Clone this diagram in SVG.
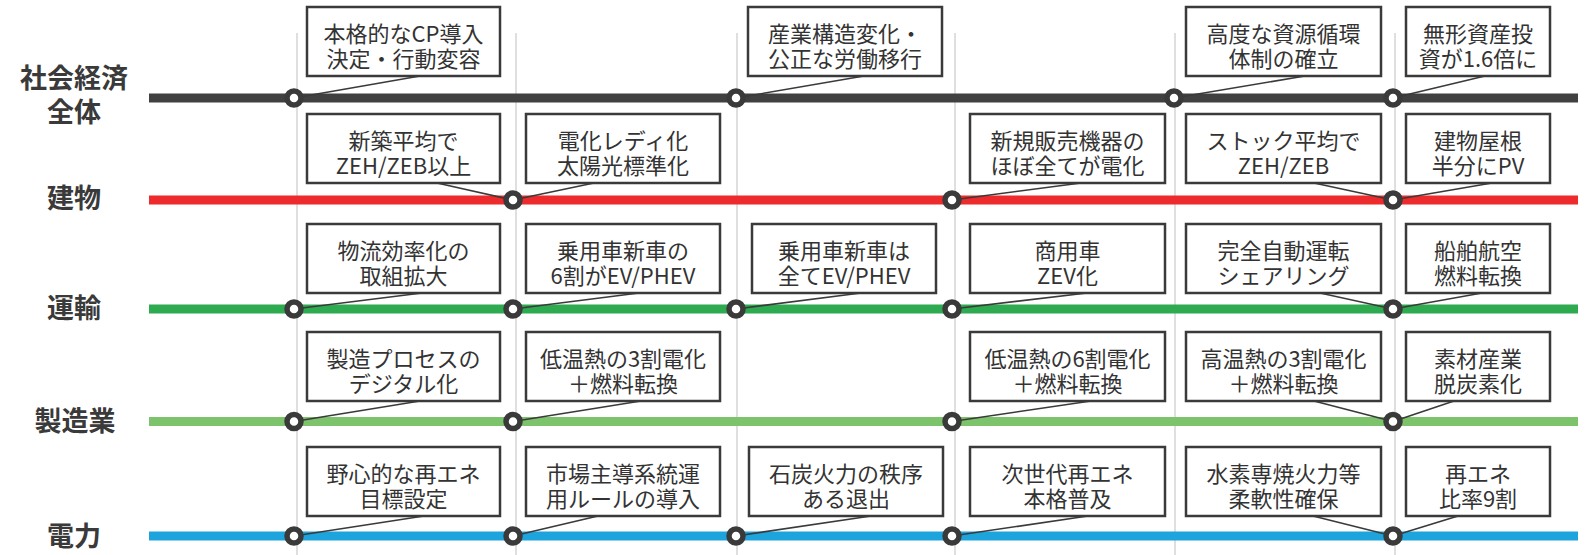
<svg xmlns="http://www.w3.org/2000/svg" width="1593" height="555" viewBox="0 0 1593 555">
<style>
.grid{stroke:#d4d4d4;stroke-width:1.5}
.track{stroke-width:9;fill:none}
.box{fill:#fff;stroke:#3a3a3a;stroke-width:2.5}
.t{font-family:"Noto Sans CJK JP","Noto Sans",sans-serif;font-size:22px;fill:#333;text-anchor:middle}
.lbl{font-family:"Noto Sans CJK JP","Noto Sans",sans-serif;font-size:27px;font-weight:bold;fill:#3a3a3a;text-anchor:middle}
.ld{stroke:#3a3a3a;stroke-width:1.6;fill:none}
.st{fill:#fff;stroke:#3a3a3a;stroke-width:5.5}
</style>
<rect width="1593" height="555" fill="#fff"/>
<g id="grid">
<line class="grid" x1="297" y1="33" x2="297" y2="555"/>
<line class="grid" x1="516" y1="33" x2="516" y2="555"/>
<line class="grid" x1="737" y1="33" x2="737" y2="555"/>
<line class="grid" x1="955" y1="33" x2="955" y2="555"/>
<line class="grid" x1="1175" y1="33" x2="1175" y2="555"/>
<line class="grid" x1="1395" y1="33" x2="1395" y2="555"/>
</g>
<g id="labels">
<text class="lbl" x="74" y="88">社会経済</text>
<text class="lbl" x="74" y="122">全体</text>
<text class="lbl" x="74" y="208">建物</text>
<text class="lbl" x="74" y="318">運輸</text>
<text class="lbl" x="75" y="431">製造業</text>
<text class="lbl" x="74" y="546">電力</text>
</g>
<g id="tracks">
<line class="track" x1="149" y1="98" x2="1578" y2="98" stroke="#404040"/>
<line class="track" x1="149" y1="200" x2="1578" y2="200" stroke="#ED2A2C"/>
<line class="track" x1="149" y1="309" x2="1578" y2="309" stroke="#2EAA50"/>
<line class="track" x1="149" y1="421.5" x2="1578" y2="421.5" stroke="#7DC36B"/>
<line class="track" x1="149" y1="536" x2="1578" y2="536" stroke="#1DA4DD"/>
</g>
<g id="connectors">
<line class="ld" x1="420" y1="76" x2="294" y2="98"/>
<line class="ld" x1="864" y1="76" x2="736" y2="98"/>
<line class="ld" x1="1305" y1="76" x2="1174" y2="98"/>
<line class="ld" x1="1485" y1="76" x2="1393" y2="98"/>
<line class="ld" x1="437" y1="183" x2="513" y2="200"/>
<line class="ld" x1="594" y1="183" x2="513" y2="200"/>
<line class="ld" x1="1081" y1="183" x2="952" y2="200"/>
<line class="ld" x1="1314" y1="183" x2="1393" y2="200"/>
<line class="ld" x1="1492" y1="183" x2="1393" y2="200"/>
<line class="ld" x1="422" y1="293" x2="294" y2="309"/>
<line class="ld" x1="639" y1="293" x2="513" y2="309"/>
<line class="ld" x1="861" y1="293" x2="736" y2="309"/>
<line class="ld" x1="1087" y1="293" x2="952" y2="309"/>
<line class="ld" x1="1320" y1="293" x2="1393" y2="309"/>
<line class="ld" x1="1482" y1="293" x2="1393" y2="309"/>
<line class="ld" x1="420" y1="401" x2="294" y2="421.5"/>
<line class="ld" x1="641" y1="401" x2="513" y2="421.5"/>
<line class="ld" x1="1091" y1="401" x2="952" y2="421.5"/>
<line class="ld" x1="1314" y1="401" x2="1393" y2="421.5"/>
<line class="ld" x1="1454" y1="401" x2="1393" y2="421.5"/>
<line class="ld" x1="424" y1="516" x2="294" y2="536"/>
<line class="ld" x1="598" y1="516" x2="513" y2="536"/>
<line class="ld" x1="871" y1="516" x2="736" y2="536"/>
<line class="ld" x1="1088" y1="516" x2="952" y2="536"/>
<line class="ld" x1="1313" y1="516" x2="1393" y2="536"/>
<line class="ld" x1="1458" y1="516" x2="1393" y2="536"/>
</g>
<g id="stations">
<circle class="st" cx="294" cy="98" r="7"/>
<circle class="st" cx="736" cy="98" r="7"/>
<circle class="st" cx="1174" cy="98" r="7"/>
<circle class="st" cx="1393" cy="98" r="7"/>
<circle class="st" cx="513" cy="200" r="7"/>
<circle class="st" cx="952" cy="200" r="7"/>
<circle class="st" cx="1393" cy="200" r="7"/>
<circle class="st" cx="294" cy="309" r="7"/>
<circle class="st" cx="513" cy="309" r="7"/>
<circle class="st" cx="736" cy="309" r="7"/>
<circle class="st" cx="952" cy="309" r="7"/>
<circle class="st" cx="1393" cy="309" r="7"/>
<circle class="st" cx="294" cy="421.5" r="7"/>
<circle class="st" cx="513" cy="421.5" r="7"/>
<circle class="st" cx="952" cy="421.5" r="7"/>
<circle class="st" cx="1393" cy="421.5" r="7"/>
<circle class="st" cx="294" cy="536" r="7"/>
<circle class="st" cx="513" cy="536" r="7"/>
<circle class="st" cx="736" cy="536" r="7"/>
<circle class="st" cx="952" cy="536" r="7"/>
<circle class="st" cx="1393" cy="536" r="7"/>
</g>
<!-- row 0 -->
<g id="n-cp"><rect class="box" x="307" y="7" width="193" height="69"/><text class="t" x="403.5" y="42">本格的なCP導入</text><text class="t" x="403.5" y="67">決定・行動変容</text></g>
<g id="n-sangyo"><rect class="box" x="748" y="7" width="194" height="69"/><text class="t" x="845" y="42">産業構造変化・</text><text class="t" x="845" y="67">公正な労働移行</text></g>
<g id="n-shigen"><rect class="box" x="1186" y="7" width="195" height="69"/><text class="t" x="1283.5" y="42">高度な資源循環</text><text class="t" x="1283.5" y="67">体制の確立</text></g>
<g id="n-mukei"><rect class="box" x="1406" y="7" width="144" height="69"/><text class="t" x="1478" y="42">無形資産投</text><text class="t" x="1478" y="67">資が1.6倍に</text></g>
<!-- row 1 -->
<g id="n-shinchiku"><rect class="box" x="307" y="114" width="193" height="69"/><text class="t" x="403.5" y="149">新築平均で</text><text class="t" x="403.5" y="174">ZEH/ZEB以上</text></g>
<g id="n-denka-ready"><rect class="box" x="526" y="114" width="194" height="69"/><text class="t" x="623" y="149">電化レディ化</text><text class="t" x="623" y="174">太陽光標準化</text></g>
<g id="n-kiki"><rect class="box" x="970" y="114" width="195" height="69"/><text class="t" x="1067.5" y="149">新規販売機器の</text><text class="t" x="1067.5" y="174">ほぼ全てが電化</text></g>
<g id="n-stock"><rect class="box" x="1186" y="114" width="195" height="69"/><text class="t" x="1283.5" y="149">ストック平均で</text><text class="t" x="1283.5" y="174">ZEH/ZEB</text></g>
<g id="n-yane"><rect class="box" x="1406" y="114" width="144" height="69"/><text class="t" x="1478" y="149">建物屋根</text><text class="t" x="1478" y="174">半分にPV</text></g>
<!-- row 2 -->
<g id="n-butsuryu"><rect class="box" x="307" y="224" width="193" height="69"/><text class="t" x="403.5" y="259">物流効率化の</text><text class="t" x="403.5" y="284">取組拡大</text></g>
<g id="n-ev6"><rect class="box" x="526" y="224" width="194" height="69"/><text class="t" x="623" y="259">乗用車新車の</text><text class="t" x="623" y="284">6割がEV/PHEV</text></g>
<g id="n-evall"><rect class="box" x="752" y="224" width="184" height="69"/><text class="t" x="844" y="259">乗用車新車は</text><text class="t" x="844" y="284">全てEV/PHEV</text></g>
<g id="n-zev"><rect class="box" x="970" y="224" width="195" height="69"/><text class="t" x="1067.5" y="259">商用車</text><text class="t" x="1067.5" y="284">ZEV化</text></g>
<g id="n-jido"><rect class="box" x="1186" y="224" width="195" height="69"/><text class="t" x="1283.5" y="259">完全自動運転</text><text class="t" x="1283.5" y="284">シェアリング</text></g>
<g id="n-senpaku"><rect class="box" x="1406" y="224" width="144" height="69"/><text class="t" x="1478" y="259">船舶航空</text><text class="t" x="1478" y="284">燃料転換</text></g>
<!-- row 3 -->
<g id="n-digital"><rect class="box" x="307" y="332" width="193" height="69"/><text class="t" x="403.5" y="367">製造プロセスの</text><text class="t" x="403.5" y="392">デジタル化</text></g>
<g id="n-teion3"><rect class="box" x="526" y="332" width="194" height="69"/><text class="t" x="623" y="367">低温熱の3割電化</text><text class="t" x="623" y="392">＋燃料転換</text></g>
<g id="n-teion6"><rect class="box" x="970" y="332" width="195" height="69"/><text class="t" x="1067.5" y="367">低温熱の6割電化</text><text class="t" x="1067.5" y="392">＋燃料転換</text></g>
<g id="n-koon3"><rect class="box" x="1186" y="332" width="195" height="69"/><text class="t" x="1283.5" y="367">高温熱の3割電化</text><text class="t" x="1283.5" y="392">＋燃料転換</text></g>
<g id="n-sozai"><rect class="box" x="1406" y="332" width="144" height="69"/><text class="t" x="1478" y="367">素材産業</text><text class="t" x="1478" y="392">脱炭素化</text></g>
<!-- row 4 -->
<g id="n-yashin"><rect class="box" x="307" y="447" width="193" height="69"/><text class="t" x="403.5" y="482">野心的な再エネ</text><text class="t" x="403.5" y="507">目標設定</text></g>
<g id="n-shijo"><rect class="box" x="526" y="447" width="194" height="69"/><text class="t" x="623" y="482">市場主導系統運</text><text class="t" x="623" y="507">用ルールの導入</text></g>
<g id="n-sekitan"><rect class="box" x="749" y="447" width="194" height="69"/><text class="t" x="846" y="482">石炭火力の秩序</text><text class="t" x="846" y="507">ある退出</text></g>
<g id="n-jisedai"><rect class="box" x="970" y="447" width="195" height="69"/><text class="t" x="1067.5" y="482">次世代再エネ</text><text class="t" x="1067.5" y="507">本格普及</text></g>
<g id="n-suiso"><rect class="box" x="1186" y="447" width="195" height="69"/><text class="t" x="1283.5" y="482">水素専焼火力等</text><text class="t" x="1283.5" y="507">柔軟性確保</text></g>
<g id="n-saiene9"><rect class="box" x="1406" y="447" width="144" height="69"/><text class="t" x="1478" y="482">再エネ</text><text class="t" x="1478" y="507">比率9割</text></g>
</svg>
